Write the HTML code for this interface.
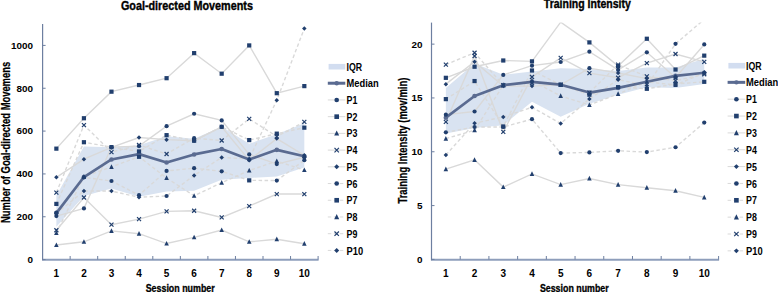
<!DOCTYPE html>
<html><head><meta charset="utf-8"><style>
html,body{margin:0;padding:0;background:#fff;width:778px;height:292px;overflow:hidden}
</style></head><body>
<svg width="778" height="292" viewBox="0 0 778 292" style="display:block">
<defs><clipPath id="cl"><rect x="42.6" y="24.0" width="275.5" height="235.60000000000002"/></clipPath><clipPath id="cr"><rect x="431.5" y="22.6" width="287.1" height="236.79999999999998"/></clipPath></defs>
<g font-family='"Liberation Sans", sans-serif' font-weight="bold" fill="#000">
<path d="M56.38,195.40 L83.93,146.46 L111.47,147.21 L139.03,145.28 L166.58,136.28 L194.12,138.80 L221.68,126.81 L249.22,143.67 L276.78,134.36 L304.33,123.33 L304.33,167.61 L276.78,176.44 L249.22,177.89 L221.68,179.87 L194.12,190.69 L166.58,191.49 L139.03,196.74 L111.47,188.55 L83.93,195.88 L56.38,226.72Z" fill="#d9e3f1"/>
<g clip-path="url(#cl)">
<path d="M56.38,216.12 L83.93,208.41 L111.47,147.15 L139.03,146.08 L166.58,126.16 L194.12,113.74 L221.68,120.38 L249.22,154.44 L276.78,164.07 L304.33,157.22" fill="none" stroke="#d9d9d9" stroke-width="1.4"/>
<path d="M56.38,148.65 L83.93,118.24 L111.47,91.68 L139.03,85.04 L166.58,78.19 L194.12,53.13 L221.68,73.69 L249.22,45.42 L276.78,93.18 L304.33,86.11" fill="none" stroke="#d9d9d9" stroke-width="1.4"/>
<path d="M56.38,245.04 L83.93,241.82 L111.47,230.90 L139.03,233.68 L166.58,243.54 L194.12,237.33 L221.68,230.04 L249.22,241.82 L276.78,239.25 L304.33,243.75" fill="none" stroke="#d9d9d9" stroke-width="1.4"/>
<path d="M56.38,230.26 L83.93,197.49 L111.47,224.69 L139.03,219.12 L166.58,211.41 L194.12,210.77 L221.68,217.41 L249.22,206.05 L276.78,194.06 L304.33,194.06" fill="none" stroke="#d9d9d9" stroke-width="1.4"/>
<path d="M56.38,177.35 L83.93,159.15 L111.47,147.37 L139.03,137.52 L166.58,139.66 L194.12,140.73 L221.68,126.81 L249.22,160.22 L276.78,138.59 L304.33,155.29" fill="none" stroke="#d9d9d9" stroke-width="1.4"/>
<path d="M56.38,212.69 L83.93,177.35 L111.47,181.00 L139.03,195.13 L166.58,170.93 L194.12,168.14 L221.68,171.36 L249.22,180.35 L276.78,180.57 L304.33,160.22" fill="none" stroke="#d9d9d9" stroke-width="1.4" stroke-dasharray="3.5,2.5"/>
<path d="M56.38,203.91 L83.93,142.23 L111.47,147.15 L139.03,151.44 L166.58,135.16 L194.12,140.73 L221.68,126.81 L249.22,140.09 L276.78,133.66 L304.33,127.66" fill="none" stroke="#d9d9d9" stroke-width="1.4" stroke-dasharray="3.5,2.5"/>
<path d="M56.38,233.04 L83.93,176.71 L111.47,166.86 L139.03,156.79 L166.58,178.00 L194.12,195.77 L221.68,182.71 L249.22,170.50 L276.78,161.08 L304.33,170.07" fill="none" stroke="#d9d9d9" stroke-width="1.4" stroke-dasharray="3.5,2.5"/>
<path d="M56.38,192.56 L83.93,125.09 L111.47,152.08 L139.03,145.01 L166.58,154.01 L194.12,138.16 L221.68,140.51 L249.22,118.88 L276.78,136.45 L304.33,121.88" fill="none" stroke="#d9d9d9" stroke-width="1.4" stroke-dasharray="3.5,2.5"/>
<path d="M56.38,213.55 L83.93,191.06 L111.47,191.06 L139.03,197.27 L166.58,195.99 L194.12,175.43 L221.68,157.44 L249.22,158.93 L276.78,100.25 L304.33,28.50" fill="none" stroke="#d9d9d9" stroke-width="1.4" stroke-dasharray="3.5,2.5"/>
</g>
<path d="M56.38,213.12 L83.93,177.03 L111.47,159.47 L139.03,154.12 L166.58,162.47 L194.12,154.44 L221.68,148.98 L249.22,159.58 L276.78,149.83 L304.33,156.26" fill="none" stroke="#5a6b91" stroke-width="2.7" stroke-linejoin="round"/>
<circle cx="56.38" cy="213.12" r="2.3" fill="#5a6b91"/>
<circle cx="83.93" cy="177.03" r="2.3" fill="#5a6b91"/>
<circle cx="111.47" cy="159.47" r="2.3" fill="#5a6b91"/>
<circle cx="139.03" cy="154.12" r="2.3" fill="#5a6b91"/>
<circle cx="166.58" cy="162.47" r="2.3" fill="#5a6b91"/>
<circle cx="194.12" cy="154.44" r="2.3" fill="#5a6b91"/>
<circle cx="221.68" cy="148.98" r="2.3" fill="#5a6b91"/>
<circle cx="249.22" cy="159.58" r="2.3" fill="#5a6b91"/>
<circle cx="276.78" cy="149.83" r="2.3" fill="#5a6b91"/>
<circle cx="304.33" cy="156.26" r="2.3" fill="#5a6b91"/>
<g clip-path="url(#cl)">
<circle cx="56.38" cy="216.12" r="2.10" fill="#213f6e"/>
<circle cx="83.93" cy="208.41" r="2.10" fill="#213f6e"/>
<circle cx="111.47" cy="147.15" r="2.10" fill="#213f6e"/>
<circle cx="139.03" cy="146.08" r="2.10" fill="#213f6e"/>
<circle cx="166.58" cy="126.16" r="2.10" fill="#213f6e"/>
<circle cx="194.12" cy="113.74" r="2.10" fill="#213f6e"/>
<circle cx="221.68" cy="120.38" r="2.10" fill="#213f6e"/>
<circle cx="249.22" cy="154.44" r="2.10" fill="#213f6e"/>
<circle cx="276.78" cy="164.07" r="2.10" fill="#213f6e"/>
<circle cx="304.33" cy="157.22" r="2.10" fill="#213f6e"/>
<rect x="54.27" y="146.55" width="4.20" height="4.20" fill="#213f6e"/>
<rect x="81.83" y="116.14" width="4.20" height="4.20" fill="#213f6e"/>
<rect x="109.38" y="89.58" width="4.20" height="4.20" fill="#213f6e"/>
<rect x="136.93" y="82.94" width="4.20" height="4.20" fill="#213f6e"/>
<rect x="164.48" y="76.09" width="4.20" height="4.20" fill="#213f6e"/>
<rect x="192.03" y="51.03" width="4.20" height="4.20" fill="#213f6e"/>
<rect x="219.58" y="71.59" width="4.20" height="4.20" fill="#213f6e"/>
<rect x="247.12" y="43.32" width="4.20" height="4.20" fill="#213f6e"/>
<rect x="274.68" y="91.08" width="4.20" height="4.20" fill="#213f6e"/>
<rect x="302.23" y="84.01" width="4.20" height="4.20" fill="#213f6e"/>
<path d="M56.38,242.40 L58.66,247.08 L54.09,247.08Z" fill="#213f6e"/>
<path d="M83.93,239.18 L86.21,243.86 L81.65,243.86Z" fill="#213f6e"/>
<path d="M111.47,228.26 L113.75,232.94 L109.19,232.94Z" fill="#213f6e"/>
<path d="M139.03,231.04 L141.31,235.72 L136.75,235.72Z" fill="#213f6e"/>
<path d="M166.58,240.90 L168.86,245.58 L164.30,245.58Z" fill="#213f6e"/>
<path d="M194.12,234.69 L196.41,239.37 L191.84,239.37Z" fill="#213f6e"/>
<path d="M221.68,227.40 L223.96,232.08 L219.40,232.08Z" fill="#213f6e"/>
<path d="M249.22,239.18 L251.50,243.86 L246.94,243.86Z" fill="#213f6e"/>
<path d="M276.78,236.61 L279.06,241.29 L274.50,241.29Z" fill="#213f6e"/>
<path d="M304.33,241.11 L306.61,245.79 L302.05,245.79Z" fill="#213f6e"/>
<path d="M54.38,228.26 L58.38,232.26 M58.38,228.26 L54.38,232.26" stroke="#213f6e" stroke-width="1.2" fill="none"/>
<path d="M81.93,195.49 L85.93,199.49 M85.93,195.49 L81.93,199.49" stroke="#213f6e" stroke-width="1.2" fill="none"/>
<path d="M109.47,222.69 L113.47,226.69 M113.47,222.69 L109.47,226.69" stroke="#213f6e" stroke-width="1.2" fill="none"/>
<path d="M137.03,217.12 L141.03,221.12 M141.03,217.12 L137.03,221.12" stroke="#213f6e" stroke-width="1.2" fill="none"/>
<path d="M164.58,209.41 L168.58,213.41 M168.58,209.41 L164.58,213.41" stroke="#213f6e" stroke-width="1.2" fill="none"/>
<path d="M192.12,208.77 L196.12,212.77 M196.12,208.77 L192.12,212.77" stroke="#213f6e" stroke-width="1.2" fill="none"/>
<path d="M219.68,215.41 L223.68,219.41 M223.68,215.41 L219.68,219.41" stroke="#213f6e" stroke-width="1.2" fill="none"/>
<path d="M247.22,204.05 L251.22,208.05 M251.22,204.05 L247.22,208.05" stroke="#213f6e" stroke-width="1.2" fill="none"/>
<path d="M274.78,192.06 L278.78,196.06 M278.78,192.06 L274.78,196.06" stroke="#213f6e" stroke-width="1.2" fill="none"/>
<path d="M302.33,192.06 L306.33,196.06 M306.33,192.06 L302.33,196.06" stroke="#213f6e" stroke-width="1.2" fill="none"/>
<path d="M56.38,175.10 L58.62,177.35 L56.38,179.60 L54.12,177.35Z" fill="#213f6e"/>
<path d="M83.93,156.90 L86.18,159.15 L83.93,161.40 L81.68,159.15Z" fill="#213f6e"/>
<path d="M111.47,145.12 L113.72,147.37 L111.47,149.62 L109.22,147.37Z" fill="#213f6e"/>
<path d="M139.03,135.27 L141.28,137.52 L139.03,139.77 L136.78,137.52Z" fill="#213f6e"/>
<path d="M166.58,137.41 L168.83,139.66 L166.58,141.91 L164.33,139.66Z" fill="#213f6e"/>
<path d="M194.12,138.48 L196.38,140.73 L194.12,142.98 L191.88,140.73Z" fill="#213f6e"/>
<path d="M221.68,124.56 L223.93,126.81 L221.68,129.06 L219.43,126.81Z" fill="#213f6e"/>
<path d="M249.22,157.97 L251.47,160.22 L249.22,162.47 L246.97,160.22Z" fill="#213f6e"/>
<path d="M276.78,136.34 L279.03,138.59 L276.78,140.84 L274.53,138.59Z" fill="#213f6e"/>
<path d="M304.33,153.04 L306.58,155.29 L304.33,157.54 L302.08,155.29Z" fill="#213f6e"/>
<circle cx="56.38" cy="212.69" r="2.10" fill="#213f6e"/>
<circle cx="83.93" cy="177.35" r="2.10" fill="#213f6e"/>
<circle cx="111.47" cy="181.00" r="2.10" fill="#213f6e"/>
<circle cx="139.03" cy="195.13" r="2.10" fill="#213f6e"/>
<circle cx="166.58" cy="170.93" r="2.10" fill="#213f6e"/>
<circle cx="194.12" cy="168.14" r="2.10" fill="#213f6e"/>
<circle cx="221.68" cy="171.36" r="2.10" fill="#213f6e"/>
<rect x="247.12" y="178.25" width="4.20" height="4.20" fill="#213f6e"/>
<circle cx="276.78" cy="180.57" r="2.10" fill="#213f6e"/>
<circle cx="304.33" cy="160.22" r="2.10" fill="#213f6e"/>
<rect x="54.27" y="201.81" width="4.20" height="4.20" fill="#213f6e"/>
<rect x="81.83" y="140.13" width="4.20" height="4.20" fill="#213f6e"/>
<rect x="109.38" y="145.05" width="4.20" height="4.20" fill="#213f6e"/>
<rect x="136.93" y="149.34" width="4.20" height="4.20" fill="#213f6e"/>
<rect x="164.48" y="133.06" width="4.20" height="4.20" fill="#213f6e"/>
<rect x="192.03" y="138.63" width="4.20" height="4.20" fill="#213f6e"/>
<rect x="219.58" y="124.71" width="4.20" height="4.20" fill="#213f6e"/>
<rect x="247.12" y="137.99" width="4.20" height="4.20" fill="#213f6e"/>
<rect x="274.68" y="131.56" width="4.20" height="4.20" fill="#213f6e"/>
<rect x="302.23" y="125.56" width="4.20" height="4.20" fill="#213f6e"/>
<path d="M56.38,230.40 L58.66,235.08 L54.09,235.08Z" fill="#213f6e"/>
<path d="M83.93,174.07 L86.21,178.75 L81.65,178.75Z" fill="#213f6e"/>
<path d="M111.47,164.22 L113.75,168.90 L109.19,168.90Z" fill="#213f6e"/>
<rect x="136.93" y="154.69" width="4.20" height="4.20" fill="#213f6e"/>
<path d="M166.58,175.36 L168.86,180.04 L164.30,180.04Z" fill="#213f6e"/>
<path d="M194.12,193.13 L196.41,197.81 L191.84,197.81Z" fill="#213f6e"/>
<path d="M221.68,180.07 L223.96,184.75 L219.40,184.75Z" fill="#213f6e"/>
<path d="M249.22,167.86 L251.50,172.54 L246.94,172.54Z" fill="#213f6e"/>
<path d="M276.78,158.44 L279.06,163.12 L274.50,163.12Z" fill="#213f6e"/>
<path d="M304.33,167.43 L306.61,172.11 L302.05,172.11Z" fill="#213f6e"/>
<path d="M54.38,190.56 L58.38,194.56 M58.38,190.56 L54.38,194.56" stroke="#213f6e" stroke-width="1.2" fill="none"/>
<path d="M81.93,123.09 L85.93,127.09 M85.93,123.09 L81.93,127.09" stroke="#213f6e" stroke-width="1.2" fill="none"/>
<path d="M109.47,150.08 L113.47,154.08 M113.47,150.08 L109.47,154.08" stroke="#213f6e" stroke-width="1.2" fill="none"/>
<path d="M137.03,143.01 L141.03,147.01 M141.03,143.01 L137.03,147.01" stroke="#213f6e" stroke-width="1.2" fill="none"/>
<path d="M164.58,152.01 L168.58,156.01 M168.58,152.01 L164.58,156.01" stroke="#213f6e" stroke-width="1.2" fill="none"/>
<circle cx="194.12" cy="138.16" r="2.10" fill="#213f6e"/>
<path d="M219.68,138.51 L223.68,142.51 M223.68,138.51 L219.68,142.51" stroke="#213f6e" stroke-width="1.2" fill="none"/>
<path d="M247.22,116.88 L251.22,120.88 M251.22,116.88 L247.22,120.88" stroke="#213f6e" stroke-width="1.2" fill="none"/>
<path d="M274.78,134.45 L278.78,138.45 M278.78,134.45 L274.78,138.45" stroke="#213f6e" stroke-width="1.2" fill="none"/>
<path d="M302.33,119.88 L306.33,123.88 M306.33,119.88 L302.33,123.88" stroke="#213f6e" stroke-width="1.2" fill="none"/>
<path d="M56.38,211.30 L58.62,213.55 L56.38,215.80 L54.12,213.55Z" fill="#213f6e"/>
<path d="M83.93,188.81 L86.18,191.06 L83.93,193.31 L81.68,191.06Z" fill="#213f6e"/>
<path d="M111.47,188.81 L113.72,191.06 L111.47,193.31 L109.22,191.06Z" fill="#213f6e"/>
<path d="M139.03,195.02 L141.28,197.27 L139.03,199.52 L136.78,197.27Z" fill="#213f6e"/>
<circle cx="166.58" cy="195.99" r="2.10" fill="#213f6e"/>
<path d="M194.12,173.18 L196.38,175.43 L194.12,177.68 L191.88,175.43Z" fill="#213f6e"/>
<path d="M221.68,155.19 L223.93,157.44 L221.68,159.69 L219.43,157.44Z" fill="#213f6e"/>
<path d="M249.22,156.68 L251.47,158.93 L249.22,161.18 L246.97,158.93Z" fill="#213f6e"/>
<path d="M276.78,98.00 L279.03,100.25 L276.78,102.50 L274.53,100.25Z" fill="#213f6e"/>
<path d="M304.33,26.25 L306.58,28.50 L304.33,30.75 L302.08,28.50Z" fill="#213f6e"/>
</g>
<path d="M42.60,259.8 L318.60,259.8" fill="none" stroke="#8e9ebb" stroke-width="1.9"/>
<path d="M42.60,24.00 L42.60,260.5" fill="none" stroke="#6d7fa0" stroke-width="1.2"/>
<path d="M42.60,259.60 L45.60,259.60" stroke="#6d7fa0" stroke-width="1"/>
<path d="M42.60,216.76 L45.60,216.76" stroke="#6d7fa0" stroke-width="1"/>
<path d="M42.60,173.93 L45.60,173.93" stroke="#6d7fa0" stroke-width="1"/>
<path d="M42.60,131.09 L45.60,131.09" stroke="#6d7fa0" stroke-width="1"/>
<path d="M42.60,88.25 L45.60,88.25" stroke="#6d7fa0" stroke-width="1"/>
<path d="M42.60,45.42 L45.60,45.42" stroke="#6d7fa0" stroke-width="1"/>
<path d="M70.15,259.5 L70.15,256.0" stroke="#6d7fa0" stroke-width="1"/>
<path d="M97.70,259.5 L97.70,256.0" stroke="#6d7fa0" stroke-width="1"/>
<path d="M125.25,259.5 L125.25,256.0" stroke="#6d7fa0" stroke-width="1"/>
<path d="M152.80,259.5 L152.80,256.0" stroke="#6d7fa0" stroke-width="1"/>
<path d="M180.35,259.5 L180.35,256.0" stroke="#6d7fa0" stroke-width="1"/>
<path d="M207.90,259.5 L207.90,256.0" stroke="#6d7fa0" stroke-width="1"/>
<path d="M235.45,259.5 L235.45,256.0" stroke="#6d7fa0" stroke-width="1"/>
<path d="M263.00,259.5 L263.00,256.0" stroke="#6d7fa0" stroke-width="1"/>
<path d="M290.55,259.5 L290.55,256.0" stroke="#6d7fa0" stroke-width="1"/>
<path d="M318.10,259.5 L318.10,256.0" stroke="#6d7fa0" stroke-width="1"/>
<path d="M445.86,87.94 L474.56,63.50 L503.27,74.80 L531.99,71.57 L560.69,68.24 L589.40,68.88 L618.12,70.93 L646.83,67.48 L675.53,67.38 L704.25,58.77 L704.25,83.95 L675.53,88.04 L646.83,87.18 L618.12,94.72 L589.40,103.76 L560.69,116.67 L531.99,101.71 L503.27,125.18 L474.56,128.08 L445.86,133.47Z" fill="#d9e3f1"/>
<g clip-path="url(#cr)">
<path d="M445.86,114.63 L474.56,111.51 L503.27,74.91 L531.99,65.65 L560.69,61.99 L589.40,51.66 L618.12,69.96 L646.83,52.31 L675.53,77.49 L704.25,44.45" fill="none" stroke="#d9d9d9" stroke-width="1.4"/>
<path d="M445.86,77.82 L474.56,66.73 L503.27,60.49 L531.99,61.35 L560.69,22.17 L589.40,42.41 L618.12,66.09 L646.83,38.75 L675.53,69.53 L704.25,55.64" fill="none" stroke="#d9d9d9" stroke-width="1.4"/>
<path d="M445.86,169.20 L474.56,159.84 L503.27,187.07 L531.99,173.94 L560.69,184.59 L589.40,178.46 L618.12,184.59 L646.83,187.71 L675.53,190.73 L704.25,197.40" fill="none" stroke="#d9d9d9" stroke-width="1.4"/>
<path d="M445.86,121.84 L474.56,55.97 L503.27,131.85 L531.99,76.96 L560.69,57.90 L589.40,73.19 L618.12,77.71 L646.83,63.07 L675.53,54.03 L704.25,61.89" fill="none" stroke="#d9d9d9" stroke-width="1.4"/>
<path d="M445.86,84.17 L474.56,61.67 L503.27,86.11 L531.99,86.11 L560.69,84.81 L589.40,68.13 L618.12,72.97 L646.83,78.57 L675.53,76.42 L704.25,72.54" fill="none" stroke="#d9d9d9" stroke-width="1.4"/>
<path d="M445.86,132.28 L474.56,127.01 L503.27,127.01 L531.99,119.15 L560.69,153.06 L589.40,152.41 L618.12,150.79 L646.83,152.09 L675.53,147.24 L704.25,122.59" fill="none" stroke="#d9d9d9" stroke-width="1.4" stroke-dasharray="3.5,2.5"/>
<path d="M445.86,99.13 L474.56,81.05 L503.27,126.47 L531.99,70.50 L560.69,84.81 L589.40,94.72 L618.12,87.18 L646.83,88.80 L675.53,83.95 L704.25,81.80" fill="none" stroke="#d9d9d9" stroke-width="1.4" stroke-dasharray="3.5,2.5"/>
<path d="M445.86,138.63 L474.56,130.24 L503.27,85.24 L531.99,80.72 L560.69,96.01 L589.40,104.94 L618.12,93.96 L646.83,81.80 L675.53,85.03 L704.25,72.76" fill="none" stroke="#d9d9d9" stroke-width="1.4" stroke-dasharray="3.5,2.5"/>
<path d="M445.86,64.58 L474.56,52.74 L503.27,85.24 L531.99,82.88 L560.69,84.60 L589.40,92.56 L618.12,64.69 L646.83,76.42 L675.53,80.72 L704.25,74.27" fill="none" stroke="#d9d9d9" stroke-width="1.4" stroke-dasharray="3.5,2.5"/>
<path d="M445.86,154.99 L474.56,123.24 L503.27,116.89 L531.99,107.31 L560.69,123.46 L589.40,99.02 L618.12,79.65 L646.83,85.57 L675.53,43.80 L704.25,19.37" fill="none" stroke="#d9d9d9" stroke-width="1.4" stroke-dasharray="3.5,2.5"/>
</g>
<path d="M445.86,117.64 L474.56,96.01 L503.27,85.14 L531.99,81.80 L560.69,84.71 L589.40,92.56 L618.12,87.83 L646.83,81.80 L675.53,75.88 L704.25,72.76" fill="none" stroke="#5a6b91" stroke-width="2.7" stroke-linejoin="round"/>
<circle cx="445.86" cy="117.64" r="2.3" fill="#5a6b91"/>
<circle cx="474.56" cy="96.01" r="2.3" fill="#5a6b91"/>
<circle cx="503.27" cy="85.14" r="2.3" fill="#5a6b91"/>
<circle cx="531.99" cy="81.80" r="2.3" fill="#5a6b91"/>
<circle cx="560.69" cy="84.71" r="2.3" fill="#5a6b91"/>
<circle cx="589.40" cy="92.56" r="2.3" fill="#5a6b91"/>
<circle cx="618.12" cy="87.83" r="2.3" fill="#5a6b91"/>
<circle cx="646.83" cy="81.80" r="2.3" fill="#5a6b91"/>
<circle cx="675.53" cy="75.88" r="2.3" fill="#5a6b91"/>
<circle cx="704.25" cy="72.76" r="2.3" fill="#5a6b91"/>
<g clip-path="url(#cr)">
<circle cx="445.86" cy="114.63" r="2.10" fill="#213f6e"/>
<circle cx="474.56" cy="111.51" r="2.10" fill="#213f6e"/>
<circle cx="503.27" cy="74.91" r="2.10" fill="#213f6e"/>
<circle cx="531.99" cy="65.65" r="2.10" fill="#213f6e"/>
<circle cx="560.69" cy="61.99" r="2.10" fill="#213f6e"/>
<circle cx="589.40" cy="51.66" r="2.10" fill="#213f6e"/>
<circle cx="618.12" cy="69.96" r="2.10" fill="#213f6e"/>
<circle cx="646.83" cy="52.31" r="2.10" fill="#213f6e"/>
<circle cx="675.53" cy="77.49" r="2.10" fill="#213f6e"/>
<circle cx="704.25" cy="44.45" r="2.10" fill="#213f6e"/>
<rect x="443.75" y="75.72" width="4.20" height="4.20" fill="#213f6e"/>
<rect x="472.46" y="64.63" width="4.20" height="4.20" fill="#213f6e"/>
<rect x="501.17" y="58.39" width="4.20" height="4.20" fill="#213f6e"/>
<rect x="529.88" y="59.25" width="4.20" height="4.20" fill="#213f6e"/>
<rect x="587.30" y="40.31" width="4.20" height="4.20" fill="#213f6e"/>
<rect x="616.01" y="63.99" width="4.20" height="4.20" fill="#213f6e"/>
<rect x="644.73" y="36.65" width="4.20" height="4.20" fill="#213f6e"/>
<rect x="673.43" y="67.43" width="4.20" height="4.20" fill="#213f6e"/>
<rect x="702.14" y="53.54" width="4.20" height="4.20" fill="#213f6e"/>
<path d="M445.86,166.56 L448.13,171.24 L443.58,171.24Z" fill="#213f6e"/>
<path d="M474.56,157.20 L476.84,161.88 L472.29,161.88Z" fill="#213f6e"/>
<path d="M503.27,184.43 L505.55,189.11 L501.00,189.11Z" fill="#213f6e"/>
<path d="M531.99,171.30 L534.26,175.98 L529.71,175.98Z" fill="#213f6e"/>
<path d="M560.69,181.95 L562.97,186.63 L558.41,186.63Z" fill="#213f6e"/>
<path d="M589.40,175.82 L591.68,180.50 L587.12,180.50Z" fill="#213f6e"/>
<path d="M618.12,181.95 L620.39,186.63 L615.84,186.63Z" fill="#213f6e"/>
<path d="M646.83,185.07 L649.11,189.75 L644.55,189.75Z" fill="#213f6e"/>
<path d="M675.53,188.09 L677.81,192.77 L673.25,192.77Z" fill="#213f6e"/>
<path d="M704.25,194.76 L706.52,199.44 L701.97,199.44Z" fill="#213f6e"/>
<path d="M443.86,119.84 L447.86,123.84 M447.86,119.84 L443.86,123.84" stroke="#213f6e" stroke-width="1.2" fill="none"/>
<path d="M472.56,53.97 L476.56,57.97 M476.56,53.97 L472.56,57.97" stroke="#213f6e" stroke-width="1.2" fill="none"/>
<path d="M501.27,129.85 L505.27,133.85 M505.27,129.85 L501.27,133.85" stroke="#213f6e" stroke-width="1.2" fill="none"/>
<path d="M529.99,74.96 L533.99,78.96 M533.99,74.96 L529.99,78.96" stroke="#213f6e" stroke-width="1.2" fill="none"/>
<path d="M558.69,55.90 L562.69,59.90 M562.69,55.90 L558.69,59.90" stroke="#213f6e" stroke-width="1.2" fill="none"/>
<path d="M587.40,71.19 L591.40,75.19 M591.40,71.19 L587.40,75.19" stroke="#213f6e" stroke-width="1.2" fill="none"/>
<path d="M616.12,75.71 L620.12,79.71 M620.12,75.71 L616.12,79.71" stroke="#213f6e" stroke-width="1.2" fill="none"/>
<path d="M644.83,61.07 L648.83,65.07 M648.83,61.07 L644.83,65.07" stroke="#213f6e" stroke-width="1.2" fill="none"/>
<path d="M673.53,52.03 L677.53,56.03 M677.53,52.03 L673.53,56.03" stroke="#213f6e" stroke-width="1.2" fill="none"/>
<path d="M702.25,59.89 L706.25,63.89 M706.25,59.89 L702.25,63.89" stroke="#213f6e" stroke-width="1.2" fill="none"/>
<path d="M445.86,81.92 L448.11,84.17 L445.86,86.42 L443.61,84.17Z" fill="#213f6e"/>
<path d="M474.56,59.42 L476.81,61.67 L474.56,63.92 L472.31,61.67Z" fill="#213f6e"/>
<path d="M503.27,83.86 L505.52,86.11 L503.27,88.36 L501.02,86.11Z" fill="#213f6e"/>
<path d="M531.99,83.86 L534.24,86.11 L531.99,88.36 L529.74,86.11Z" fill="#213f6e"/>
<path d="M560.69,82.56 L562.94,84.81 L560.69,87.06 L558.44,84.81Z" fill="#213f6e"/>
<circle cx="589.40" cy="68.13" r="2.10" fill="#213f6e"/>
<path d="M618.12,70.72 L620.37,72.97 L618.12,75.22 L615.87,72.97Z" fill="#213f6e"/>
<path d="M646.83,76.32 L649.08,78.57 L646.83,80.82 L644.58,78.57Z" fill="#213f6e"/>
<path d="M675.53,74.17 L677.78,76.42 L675.53,78.67 L673.28,76.42Z" fill="#213f6e"/>
<path d="M704.25,70.29 L706.50,72.54 L704.25,74.79 L702.00,72.54Z" fill="#213f6e"/>
<circle cx="445.86" cy="132.28" r="2.10" fill="#213f6e"/>
<circle cx="474.56" cy="127.01" r="2.10" fill="#213f6e"/>
<circle cx="503.27" cy="127.01" r="2.10" fill="#213f6e"/>
<circle cx="531.99" cy="119.15" r="2.10" fill="#213f6e"/>
<circle cx="560.69" cy="153.06" r="2.10" fill="#213f6e"/>
<circle cx="589.40" cy="152.41" r="2.10" fill="#213f6e"/>
<circle cx="618.12" cy="150.79" r="2.10" fill="#213f6e"/>
<circle cx="646.83" cy="152.09" r="2.10" fill="#213f6e"/>
<circle cx="675.53" cy="147.24" r="2.10" fill="#213f6e"/>
<circle cx="704.25" cy="122.59" r="2.10" fill="#213f6e"/>
<rect x="443.75" y="97.03" width="4.20" height="4.20" fill="#213f6e"/>
<rect x="472.46" y="78.95" width="4.20" height="4.20" fill="#213f6e"/>
<rect x="501.17" y="124.37" width="4.20" height="4.20" fill="#213f6e"/>
<rect x="529.88" y="68.40" width="4.20" height="4.20" fill="#213f6e"/>
<rect x="558.59" y="82.71" width="4.20" height="4.20" fill="#213f6e"/>
<rect x="587.30" y="92.62" width="4.20" height="4.20" fill="#213f6e"/>
<rect x="616.01" y="85.08" width="4.20" height="4.20" fill="#213f6e"/>
<rect x="644.73" y="86.70" width="4.20" height="4.20" fill="#213f6e"/>
<rect x="673.43" y="81.85" width="4.20" height="4.20" fill="#213f6e"/>
<rect x="702.14" y="79.70" width="4.20" height="4.20" fill="#213f6e"/>
<path d="M445.86,135.99 L448.13,140.67 L443.58,140.67Z" fill="#213f6e"/>
<path d="M474.56,127.60 L476.84,132.28 L472.29,132.28Z" fill="#213f6e"/>
<path d="M503.27,82.60 L505.55,87.28 L501.00,87.28Z" fill="#213f6e"/>
<path d="M531.99,78.08 L534.26,82.76 L529.71,82.76Z" fill="#213f6e"/>
<path d="M560.69,93.37 L562.97,98.05 L558.41,98.05Z" fill="#213f6e"/>
<path d="M589.40,102.30 L591.68,106.98 L587.12,106.98Z" fill="#213f6e"/>
<path d="M618.12,91.32 L620.39,96.00 L615.84,96.00Z" fill="#213f6e"/>
<path d="M646.83,79.16 L649.11,83.84 L644.55,83.84Z" fill="#213f6e"/>
<path d="M675.53,82.39 L677.81,87.07 L673.25,87.07Z" fill="#213f6e"/>
<path d="M704.25,70.12 L706.52,74.80 L701.97,74.80Z" fill="#213f6e"/>
<path d="M443.86,62.58 L447.86,66.58 M447.86,62.58 L443.86,66.58" stroke="#213f6e" stroke-width="1.2" fill="none"/>
<path d="M472.56,50.74 L476.56,54.74 M476.56,50.74 L472.56,54.74" stroke="#213f6e" stroke-width="1.2" fill="none"/>
<path d="M501.27,83.24 L505.27,87.24 M505.27,83.24 L501.27,87.24" stroke="#213f6e" stroke-width="1.2" fill="none"/>
<path d="M529.99,80.88 L533.99,84.88 M533.99,80.88 L529.99,84.88" stroke="#213f6e" stroke-width="1.2" fill="none"/>
<path d="M558.69,82.60 L562.69,86.60 M562.69,82.60 L558.69,86.60" stroke="#213f6e" stroke-width="1.2" fill="none"/>
<path d="M587.40,90.56 L591.40,94.56 M591.40,90.56 L587.40,94.56" stroke="#213f6e" stroke-width="1.2" fill="none"/>
<path d="M616.12,62.69 L620.12,66.69 M620.12,62.69 L616.12,66.69" stroke="#213f6e" stroke-width="1.2" fill="none"/>
<path d="M644.83,74.42 L648.83,78.42 M648.83,74.42 L644.83,78.42" stroke="#213f6e" stroke-width="1.2" fill="none"/>
<path d="M673.53,78.72 L677.53,82.72 M677.53,78.72 L673.53,82.72" stroke="#213f6e" stroke-width="1.2" fill="none"/>
<path d="M702.25,72.27 L706.25,76.27 M706.25,72.27 L702.25,76.27" stroke="#213f6e" stroke-width="1.2" fill="none"/>
<path d="M445.86,152.74 L448.11,154.99 L445.86,157.24 L443.61,154.99Z" fill="#213f6e"/>
<path d="M474.56,120.99 L476.81,123.24 L474.56,125.49 L472.31,123.24Z" fill="#213f6e"/>
<path d="M503.27,114.64 L505.52,116.89 L503.27,119.14 L501.02,116.89Z" fill="#213f6e"/>
<path d="M531.99,105.06 L534.24,107.31 L531.99,109.56 L529.74,107.31Z" fill="#213f6e"/>
<path d="M560.69,121.21 L562.94,123.46 L560.69,125.71 L558.44,123.46Z" fill="#213f6e"/>
<path d="M589.40,96.77 L591.65,99.02 L589.40,101.27 L587.15,99.02Z" fill="#213f6e"/>
<path d="M618.12,77.40 L620.37,79.65 L618.12,81.90 L615.87,79.65Z" fill="#213f6e"/>
<path d="M646.83,83.32 L649.08,85.57 L646.83,87.82 L644.58,85.57Z" fill="#213f6e"/>
<circle cx="675.53" cy="43.80" r="2.10" fill="#213f6e"/>
</g>
<path d="M431.50,259.8 L719.10,259.8" fill="none" stroke="#8e9ebb" stroke-width="1.9"/>
<path d="M431.50,22.60 L431.50,260.5" fill="none" stroke="#6d7fa0" stroke-width="1.2"/>
<path d="M431.50,259.40 L434.50,259.40" stroke="#6d7fa0" stroke-width="1"/>
<path d="M431.50,205.58 L434.50,205.58" stroke="#6d7fa0" stroke-width="1"/>
<path d="M431.50,151.76 L434.50,151.76" stroke="#6d7fa0" stroke-width="1"/>
<path d="M431.50,97.95 L434.50,97.95" stroke="#6d7fa0" stroke-width="1"/>
<path d="M431.50,44.13 L434.50,44.13" stroke="#6d7fa0" stroke-width="1"/>
<path d="M460.21,259.5 L460.21,256.0" stroke="#6d7fa0" stroke-width="1"/>
<path d="M488.92,259.5 L488.92,256.0" stroke="#6d7fa0" stroke-width="1"/>
<path d="M517.63,259.5 L517.63,256.0" stroke="#6d7fa0" stroke-width="1"/>
<path d="M546.34,259.5 L546.34,256.0" stroke="#6d7fa0" stroke-width="1"/>
<path d="M575.05,259.5 L575.05,256.0" stroke="#6d7fa0" stroke-width="1"/>
<path d="M603.76,259.5 L603.76,256.0" stroke="#6d7fa0" stroke-width="1"/>
<path d="M632.47,259.5 L632.47,256.0" stroke="#6d7fa0" stroke-width="1"/>
<path d="M661.18,259.5 L661.18,256.0" stroke="#6d7fa0" stroke-width="1"/>
<path d="M689.89,259.5 L689.89,256.0" stroke="#6d7fa0" stroke-width="1"/>
<path d="M718.60,259.5 L718.60,256.0" stroke="#6d7fa0" stroke-width="1"/>
<text x="32.9" y="263.00" font-size="9.9" text-anchor="end">0</text>
<text x="32.9" y="220.16" font-size="9.9" text-anchor="end">200</text>
<text x="32.9" y="177.33" font-size="9.9" text-anchor="end">400</text>
<text x="32.9" y="134.49" font-size="9.9" text-anchor="end">600</text>
<text x="32.9" y="91.65" font-size="9.9" text-anchor="end">800</text>
<text x="32.9" y="48.82" font-size="9.9" text-anchor="end">1000</text>
<text x="422.6" y="262.80" font-size="9.9" text-anchor="end">0</text>
<text x="422.6" y="208.98" font-size="9.9" text-anchor="end">5</text>
<text x="422.6" y="155.16" font-size="9.9" text-anchor="end">10</text>
<text x="422.6" y="101.35" font-size="9.9" text-anchor="end">15</text>
<text x="422.6" y="47.53" font-size="9.9" text-anchor="end">20</text>
<text x="56.38" y="277.4" font-size="10" text-anchor="middle">1</text>
<text x="445.86" y="277.4" font-size="10" text-anchor="middle">1</text>
<text x="83.93" y="277.4" font-size="10" text-anchor="middle">2</text>
<text x="474.56" y="277.4" font-size="10" text-anchor="middle">2</text>
<text x="111.47" y="277.4" font-size="10" text-anchor="middle">3</text>
<text x="503.27" y="277.4" font-size="10" text-anchor="middle">3</text>
<text x="139.03" y="277.4" font-size="10" text-anchor="middle">4</text>
<text x="531.99" y="277.4" font-size="10" text-anchor="middle">4</text>
<text x="166.58" y="277.4" font-size="10" text-anchor="middle">5</text>
<text x="560.69" y="277.4" font-size="10" text-anchor="middle">5</text>
<text x="194.12" y="277.4" font-size="10" text-anchor="middle">6</text>
<text x="589.40" y="277.4" font-size="10" text-anchor="middle">6</text>
<text x="221.68" y="277.4" font-size="10" text-anchor="middle">7</text>
<text x="618.12" y="277.4" font-size="10" text-anchor="middle">7</text>
<text x="249.22" y="277.4" font-size="10" text-anchor="middle">8</text>
<text x="646.83" y="277.4" font-size="10" text-anchor="middle">8</text>
<text x="276.78" y="277.4" font-size="10" text-anchor="middle">9</text>
<text x="675.53" y="277.4" font-size="10" text-anchor="middle">9</text>
<text x="304.33" y="277.4" font-size="10" text-anchor="middle">10</text>
<text x="704.25" y="277.4" font-size="10" text-anchor="middle">10</text>
<text x="120.9" y="9.6" font-size="12" text-anchor="start" textLength="132" lengthAdjust="spacingAndGlyphs" stroke="#000" stroke-width="0.35">Goal-directed Movements</text>
<text x="543.8" y="7.6" font-size="12" text-anchor="start" textLength="87" lengthAdjust="spacingAndGlyphs" stroke="#000" stroke-width="0.35">Training Intensity</text>
<text x="145.7" y="291.5" font-size="10" text-anchor="start" textLength="69" lengthAdjust="spacingAndGlyphs" stroke="#000" stroke-width="0.3">Session number</text>
<text x="539.9" y="291.5" font-size="10" text-anchor="start" textLength="68.8" lengthAdjust="spacingAndGlyphs" stroke="#000" stroke-width="0.3">Session number</text>
<text transform="translate(10.2,222.9) rotate(-90)" font-size="12.6" textLength="161" lengthAdjust="spacingAndGlyphs" stroke="#000" stroke-width="0.25">Number of Goal-directed Movemens</text>
<text transform="translate(407.2,203.6) rotate(-90)" font-size="12.6" textLength="126" lengthAdjust="spacingAndGlyphs" stroke="#000" stroke-width="0.25">Training Intensity (mov/min)</text>
<rect x="328.60" y="63.90" width="16.70" height="5.6" fill="#d2ddf0"/>
<text x="346.50" y="70.60" font-size="10" text-anchor="start" textLength="15.6" lengthAdjust="spacingAndGlyphs">IQR</text>
<path d="M327.80,83.22 L345.30,83.22" stroke="#5a6b91" stroke-width="3"/>
<circle cx="336.70" cy="83.22" r="2.2" fill="#5a6b91"/>
<text x="346.50" y="87.32" font-size="10" text-anchor="start" textLength="32.2" lengthAdjust="spacingAndGlyphs">Median</text>
<path d="M327.80,99.94 L345.30,99.94" stroke="#d9d9d9" stroke-width="1"/>
<circle cx="336.70" cy="99.94" r="2.31" fill="#213f6e"/>
<text x="346.50" y="104.04" font-size="10" text-anchor="start" textLength="10.8" lengthAdjust="spacingAndGlyphs">P1</text>
<path d="M327.80,116.66 L345.30,116.66" stroke="#d9d9d9" stroke-width="1"/>
<rect x="334.39" y="114.35" width="4.62" height="4.62" fill="#213f6e"/>
<text x="346.50" y="120.76" font-size="10" text-anchor="start" textLength="10.8" lengthAdjust="spacingAndGlyphs">P2</text>
<path d="M327.80,133.38 L345.30,133.38" stroke="#d9d9d9" stroke-width="1"/>
<path d="M336.70,130.48 L339.21,135.62 L334.19,135.62Z" fill="#213f6e"/>
<text x="346.50" y="137.48" font-size="10" text-anchor="start" textLength="10.8" lengthAdjust="spacingAndGlyphs">P3</text>
<path d="M327.80,150.10 L345.30,150.10" stroke="#d9d9d9" stroke-width="1"/>
<path d="M334.50,147.90 L338.90,152.30 M338.90,147.90 L334.50,152.30" stroke="#213f6e" stroke-width="1.2" fill="none"/>
<text x="346.50" y="154.20" font-size="10" text-anchor="start" textLength="10.8" lengthAdjust="spacingAndGlyphs">P4</text>
<path d="M327.80,166.82 L345.30,166.82" stroke="#d9d9d9" stroke-width="1"/>
<path d="M336.70,164.34 L339.18,166.82 L336.70,169.29 L334.22,166.82Z" fill="#213f6e"/>
<text x="346.50" y="170.92" font-size="10" text-anchor="start" textLength="10.8" lengthAdjust="spacingAndGlyphs">P5</text>
<path d="M327.80,183.54 L345.30,183.54" stroke="#d9d9d9" stroke-width="1" stroke-dasharray="3.5,2.5"/>
<circle cx="336.70" cy="183.54" r="2.31" fill="#213f6e"/>
<text x="346.50" y="187.64" font-size="10" text-anchor="start" textLength="10.8" lengthAdjust="spacingAndGlyphs">P6</text>
<path d="M327.80,200.26 L345.30,200.26" stroke="#d9d9d9" stroke-width="1" stroke-dasharray="3.5,2.5"/>
<rect x="334.39" y="197.95" width="4.62" height="4.62" fill="#213f6e"/>
<text x="346.50" y="204.36" font-size="10" text-anchor="start" textLength="10.8" lengthAdjust="spacingAndGlyphs">P7</text>
<path d="M327.80,216.98 L345.30,216.98" stroke="#d9d9d9" stroke-width="1" stroke-dasharray="3.5,2.5"/>
<path d="M336.70,214.08 L339.21,219.22 L334.19,219.22Z" fill="#213f6e"/>
<text x="346.50" y="221.08" font-size="10" text-anchor="start" textLength="10.8" lengthAdjust="spacingAndGlyphs">P8</text>
<path d="M327.80,233.70 L345.30,233.70" stroke="#d9d9d9" stroke-width="1" stroke-dasharray="3.5,2.5"/>
<path d="M334.50,231.50 L338.90,235.90 M338.90,231.50 L334.50,235.90" stroke="#213f6e" stroke-width="1.2" fill="none"/>
<text x="346.50" y="237.80" font-size="10" text-anchor="start" textLength="10.8" lengthAdjust="spacingAndGlyphs">P9</text>
<path d="M327.80,250.42 L345.30,250.42" stroke="#d9d9d9" stroke-width="1" stroke-dasharray="3.5,2.5"/>
<path d="M336.70,247.94 L339.18,250.42 L336.70,252.89 L334.22,250.42Z" fill="#213f6e"/>
<text x="346.50" y="254.52" font-size="10" text-anchor="start" textLength="16.6" lengthAdjust="spacingAndGlyphs">P10</text>
<rect x="728.40" y="62.90" width="16.80" height="5.6" fill="#d2ddf0"/>
<text x="746.00" y="69.60" font-size="10" text-anchor="start" textLength="15.6" lengthAdjust="spacingAndGlyphs">IQR</text>
<path d="M727.60,82.35 L745.20,82.35" stroke="#5a6b91" stroke-width="3"/>
<circle cx="736.40" cy="82.35" r="2.2" fill="#5a6b91"/>
<text x="746.00" y="86.45" font-size="10" text-anchor="start" textLength="32.2" lengthAdjust="spacingAndGlyphs">Median</text>
<path d="M727.60,99.20 L745.20,99.20" stroke="#d9d9d9" stroke-width="1"/>
<circle cx="736.40" cy="99.20" r="2.31" fill="#213f6e"/>
<text x="746.00" y="103.30" font-size="10" text-anchor="start" textLength="10.8" lengthAdjust="spacingAndGlyphs">P1</text>
<path d="M727.60,116.05 L745.20,116.05" stroke="#d9d9d9" stroke-width="1"/>
<rect x="734.09" y="113.74" width="4.62" height="4.62" fill="#213f6e"/>
<text x="746.00" y="120.15" font-size="10" text-anchor="start" textLength="10.8" lengthAdjust="spacingAndGlyphs">P2</text>
<path d="M727.60,132.90 L745.20,132.90" stroke="#d9d9d9" stroke-width="1"/>
<path d="M736.40,130.00 L738.91,135.14 L733.89,135.14Z" fill="#213f6e"/>
<text x="746.00" y="137.00" font-size="10" text-anchor="start" textLength="10.8" lengthAdjust="spacingAndGlyphs">P3</text>
<path d="M727.60,149.75 L745.20,149.75" stroke="#d9d9d9" stroke-width="1"/>
<path d="M734.20,147.55 L738.60,151.95 M738.60,147.55 L734.20,151.95" stroke="#213f6e" stroke-width="1.2" fill="none"/>
<text x="746.00" y="153.85" font-size="10" text-anchor="start" textLength="10.8" lengthAdjust="spacingAndGlyphs">P4</text>
<path d="M727.60,166.60 L745.20,166.60" stroke="#d9d9d9" stroke-width="1"/>
<path d="M736.40,164.13 L738.88,166.60 L736.40,169.08 L733.92,166.60Z" fill="#213f6e"/>
<text x="746.00" y="170.70" font-size="10" text-anchor="start" textLength="10.8" lengthAdjust="spacingAndGlyphs">P5</text>
<path d="M727.60,183.45 L745.20,183.45" stroke="#d9d9d9" stroke-width="1" stroke-dasharray="3.5,2.5"/>
<circle cx="736.40" cy="183.45" r="2.31" fill="#213f6e"/>
<text x="746.00" y="187.55" font-size="10" text-anchor="start" textLength="10.8" lengthAdjust="spacingAndGlyphs">P6</text>
<path d="M727.60,200.30 L745.20,200.30" stroke="#d9d9d9" stroke-width="1" stroke-dasharray="3.5,2.5"/>
<rect x="734.09" y="197.99" width="4.62" height="4.62" fill="#213f6e"/>
<text x="746.00" y="204.40" font-size="10" text-anchor="start" textLength="10.8" lengthAdjust="spacingAndGlyphs">P7</text>
<path d="M727.60,217.15 L745.20,217.15" stroke="#d9d9d9" stroke-width="1" stroke-dasharray="3.5,2.5"/>
<path d="M736.40,214.25 L738.91,219.39 L733.89,219.39Z" fill="#213f6e"/>
<text x="746.00" y="221.25" font-size="10" text-anchor="start" textLength="10.8" lengthAdjust="spacingAndGlyphs">P8</text>
<path d="M727.60,234.00 L745.20,234.00" stroke="#d9d9d9" stroke-width="1" stroke-dasharray="3.5,2.5"/>
<path d="M734.20,231.80 L738.60,236.20 M738.60,231.80 L734.20,236.20" stroke="#213f6e" stroke-width="1.2" fill="none"/>
<text x="746.00" y="238.10" font-size="10" text-anchor="start" textLength="10.8" lengthAdjust="spacingAndGlyphs">P9</text>
<path d="M727.60,250.85 L745.20,250.85" stroke="#d9d9d9" stroke-width="1" stroke-dasharray="3.5,2.5"/>
<path d="M736.40,248.38 L738.88,250.85 L736.40,253.33 L733.92,250.85Z" fill="#213f6e"/>
<text x="746.00" y="254.95" font-size="10" text-anchor="start" textLength="16.6" lengthAdjust="spacingAndGlyphs">P10</text>
</g></svg>
</body></html>
